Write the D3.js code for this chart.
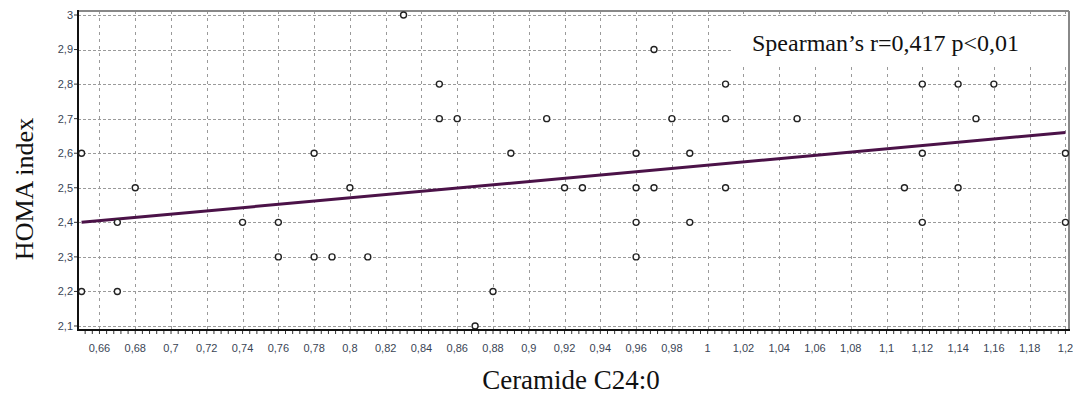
<!DOCTYPE html>
<html>
<head>
<meta charset="utf-8">
<script src="https://cdn.jsdelivr.net/npm/d3@7"></script>
<style>
  body { margin: 0; background: #fff; }
  svg { display: block; }
</style>
</head>
<body>
<svg width="1073" height="396"></svg>
<script>
// Ceramide C24:0 vs HOMA index
let ceramide = [0.65, 0.65, 0.67, 0.67, 0.68, 0.74, 0.76, 0.76, 0.78, 0.78, 0.79, 0.80, 0.81,
                0.83, 0.85, 0.85, 0.86, 0.87, 0.88, 0.89, 0.91, 0.92, 0.93,
                0.96, 0.96, 0.96, 0.96, 0.97, 0.97, 0.98, 0.99, 0.99,
                1.01, 1.01, 1.01, 1.05, 1.11, 1.12, 1.12, 1.12, 1.14, 1.14, 1.15, 1.16, 1.20, 1.20];
let homa = [2.6, 2.2, 2.4, 2.2, 2.5, 2.4, 2.4, 2.3, 2.6, 2.3, 2.3, 2.5, 2.3,
            3.0, 2.8, 2.7, 2.7, 2.1, 2.2, 2.6, 2.7, 2.5, 2.5,
            2.6, 2.5, 2.4, 2.3, 2.9, 2.5, 2.7, 2.6, 2.4,
            2.8, 2.7, 2.5, 2.7, 2.5, 2.8, 2.6, 2.4, 2.8, 2.5, 2.7, 2.8, 2.6, 2.4];

// regression line end points
let fitX = [0.65, 1.2];
let fitY = [2.40, 2.66];

let xTicks = [0.66, 0.68, 0.7, 0.72, 0.74, 0.76, 0.78, 0.8, 0.82, 0.84, 0.86, 0.88, 0.9, 0.92, 0.94,
              0.96, 0.98, 1, 1.02, 1.04, 1.06, 1.08, 1.1, 1.12, 1.14, 1.16, 1.18, 1.2];
let yTicks = [2.1, 2.2, 2.3, 2.4, 2.5, 2.6, 2.7, 2.8, 2.9, 3];

let statText = 'Spearman’s r=0,417 p<0,01';
let xTitle = 'Ceramide C24:0';
let yTitle = 'HOMA index';

let svg = d3.select('svg');
let plotLeft = 78, plotRight = 1069, plotTop = 11, plotBottom = 330;

let x = d3.scaleLinear().domain([0.648, 1.202]).range([plotLeft, plotRight]);
let y = d3.scaleLinear().domain([2.0884, 3.0116]).range([plotBottom, plotTop]);

let fmt = function(d) { return String(+d.toFixed(2)).replace('.', ','); };

// grid
let grid = svg.append('g').attr('stroke', '#9a9a9a').attr('stroke-width', 1);
grid.selectAll('line.h')
  .data(yTicks)
  .enter().append('line')
  .attr('class', 'h')
  .attr('x1', plotLeft).attr('x2', plotRight)
  .attr('y1', function(d) { return Math.round(y(d)) + 0.5; })
  .attr('y2', function(d) { return Math.round(y(d)) + 0.5; })
  .attr('stroke-dasharray', '3 2');
grid.selectAll('line.v')
  .data(xTicks)
  .enter().append('line')
  .attr('class', 'v')
  .attr('x1', function(d) { return Math.round(x(d)) + 0.5; })
  .attr('x2', function(d) { return Math.round(x(d)) + 0.5; })
  .attr('y1', plotTop).attr('y2', plotBottom)
  .attr('stroke-dasharray', '3 4');

// white box behind the statistic
svg.append('rect')
  .attr('x', 733).attr('y', 17)
  .attr('width', plotRight - 2 - 733).attr('height', 49)
  .attr('fill', '#fff');

svg.append('text')
  .attr('x', 752).attr('y', 51)
  .attr('font-family', '"Liberation Serif", "Times New Roman", serif')
  .attr('font-size', 24)
  .attr('fill', '#111')
  .text(statText);

// frame
svg.append('line').attr('x1', plotLeft).attr('x2', plotRight).attr('y1', plotTop).attr('y2', plotTop)
  .attr('stroke', '#888').attr('stroke-width', 2);
svg.append('line').attr('x1', plotRight).attr('x2', plotRight).attr('y1', plotTop).attr('y2', plotBottom)
  .attr('stroke', '#888').attr('stroke-width', 2);

// regression line
svg.append('line')
  .attr('x1', x(fitX[0])).attr('y1', y(fitY[0]))
  .attr('x2', x(fitX[1])).attr('y2', y(fitY[1]))
  .attr('stroke', '#4b1248')
  .attr('stroke-width', 3);

// points
svg.append('g')
  .selectAll('circle')
  .data(d3.zip(ceramide, homa))
  .enter().append('circle')
  .attr('cx', function(d) { return x(d[0]); })
  .attr('cy', function(d) { return y(d[1]); })
  .attr('r', 3)
  .attr('fill', '#fff')
  .attr('stroke', '#222')
  .attr('stroke-width', 1.4);

// axes
let xAxis = svg.append('g').attr('transform', 'translate(0,' + plotBottom + ')');
xAxis.selectAll('line.minor')
  .data(d3.range(163, 301).map(function(i) { return i / 250; }))
  .enter().append('line')
  .attr('class', 'minor')
  .attr('x1', function(d) { return x(d); }).attr('x2', function(d) { return x(d); })
  .attr('y1', 0).attr('y2', 4)
  .attr('stroke', '#333');
xAxis.selectAll('text')
  .data(xTicks)
  .enter().append('text')
  .attr('x', function(d) { return x(d); })
  .attr('y', 22)
  .attr('text-anchor', 'middle')
  .attr('font-family', '"Liberation Sans", Arial, sans-serif')
  .attr('font-size', 11)
  .attr('fill', '#3a4555')
  .text(fmt);

let yAxis = svg.append('g').attr('transform', 'translate(' + plotLeft + ',0)');
yAxis.selectAll('line')
  .data(yTicks)
  .enter().append('line')
  .attr('x1', -4).attr('x2', 0)
  .attr('y1', function(d) { return y(d); }).attr('y2', function(d) { return y(d); })
  .attr('stroke', '#333');
yAxis.selectAll('text')
  .data(yTicks)
  .enter().append('text')
  .attr('x', -5)
  .attr('y', function(d) { return y(d); })
  .attr('dy', '0.35em')
  .attr('text-anchor', 'end')
  .attr('font-family', '"Liberation Sans", Arial, sans-serif')
  .attr('font-size', 11)
  .attr('fill', '#3a4555')
  .text(fmt);

svg.append('line').attr('x1', plotLeft).attr('x2', plotLeft).attr('y1', plotTop - 1).attr('y2', plotBottom + 1)
  .attr('stroke', '#111').attr('stroke-width', 2);
svg.append('line').attr('x1', plotLeft - 1).attr('x2', plotRight + 1).attr('y1', plotBottom).attr('y2', plotBottom)
  .attr('stroke', '#111').attr('stroke-width', 2);

// titles
svg.append('text')
  .attr('x', 571).attr('y', 389)
  .attr('text-anchor', 'middle')
  .attr('font-family', '"Liberation Serif", "Times New Roman", serif')
  .attr('font-size', 27)
  .attr('fill', '#111')
  .text(xTitle);

svg.append('text')
  .attr('transform', 'translate(33,189)rotate(-90)')
  .attr('text-anchor', 'middle')
  .attr('font-family', '"Liberation Serif", "Times New Roman", serif')
  .attr('font-size', 26)
  .attr('fill', '#111')
  .text(yTitle);
</script>
</body>
</html>
